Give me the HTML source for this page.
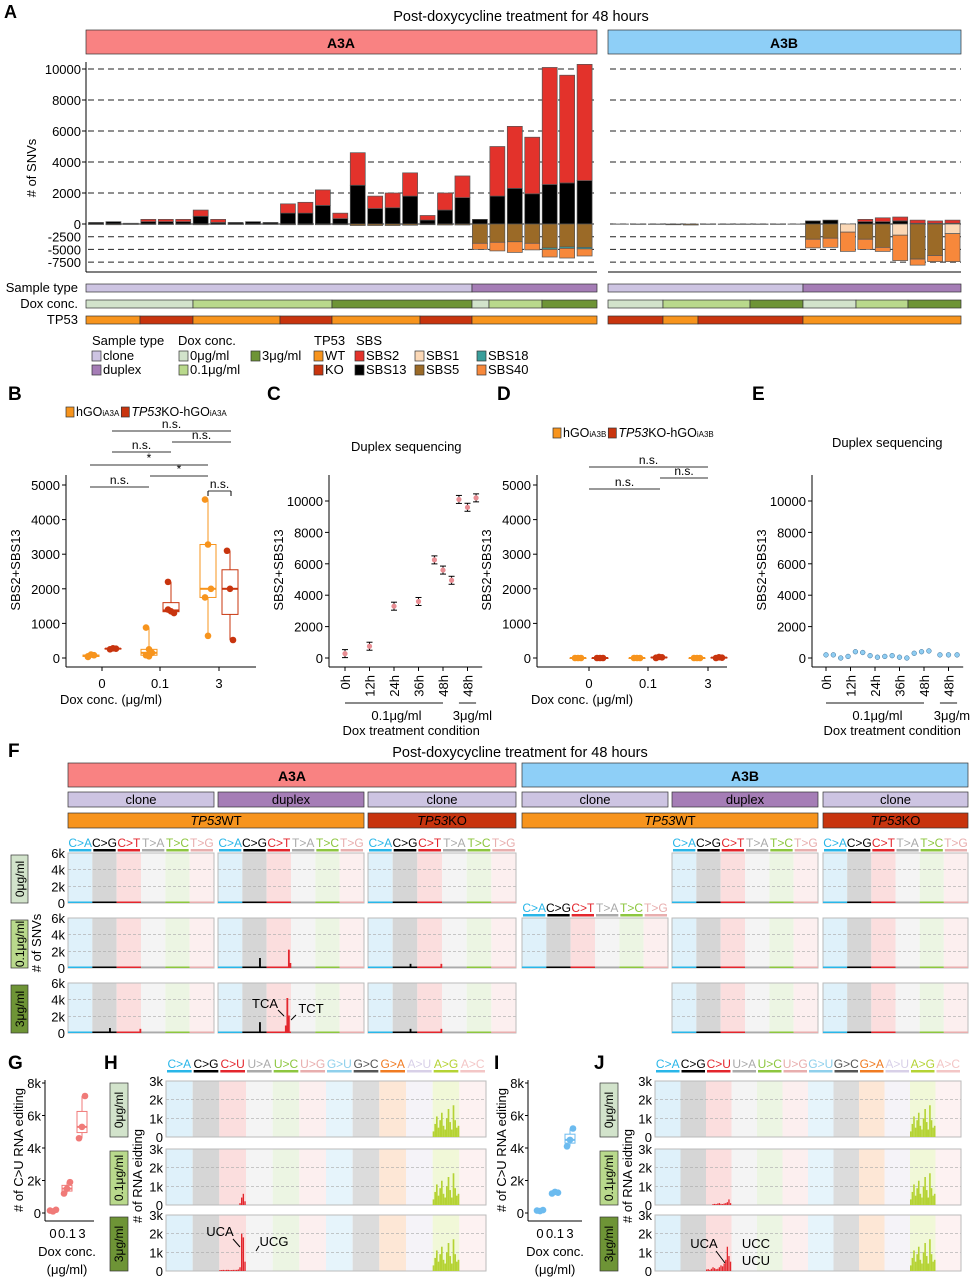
<!DOCTYPE html>
<html><head><meta charset="utf-8"><style>
html,body{margin:0;padding:0;background:#fff;}
svg{display:block;font-family:"Liberation Sans Narrow","Liberation Sans",sans-serif;}
</style></head><body>
<svg id="fig" width="971" height="1280" viewBox="0 0 971 1280" xmlns="http://www.w3.org/2000/svg"></svg>
<script>
// ---------- Panel A data ----------
const sbs2L=[0,0,0,150,150,150,400,200,0,0,0,600,700,1000,350,2100,800,950,1500,300,1100,1400,0,3200,4000,3650,7550,6950,7500];
const sbs13L=[100,150,50,150,150,150,500,100,100,150,100,700,700,1200,350,2500,1000,1050,1800,250,900,1700,300,1800,2300,1950,2550,2650,2800];
const sbs1L=[0,0,0,0,0,0,0,0,0,0,0,0,0,0,0,0,0,0,0,0,0,0,0,0,0,0,0,0,0];
const sbs5L=[100,150,100,100,100,100,150,100,100,100,100,150,150,150,150,300,300,300,250,150,200,200,3800,3600,3500,3800,4700,4500,4600];
const sbs18L=[0,0,0,0,0,0,0,0,0,0,0,0,0,0,0,0,0,0,0,0,0,0,0,0,0,0,300,300,300];
const sbs40L=[0,0,0,0,0,0,0,0,0,0,0,0,0,0,0,0,0,0,0,0,0,0,1200,1700,2100,1300,1500,1900,1400];
const sbs2R=[0,0,0,0,0,0,0,0,0,0,0,0,0,0,150,250,250,200,150,200];
const sbs13R=[0,0,0,0,0,0,0,0,0,0,0,200,250,0,150,150,200,50,50,50];
const sbs1R=[0,0,0,0,0,0,0,0,0,0,0,0,0,1600,0,0,2200,0,0,1900];
const sbs5R=[50,80,80,150,200,80,80,80,80,80,50,3000,2800,0,3000,4600,0,6900,6200,0];
const sbs18R=[0,0,0,0,0,0,0,0,0,0,0,0,0,0,0,0,0,0,0,0];
const sbs40R=[0,0,0,0,0,0,0,0,0,0,0,1700,1800,3800,2000,800,5000,1200,1200,5500];
const posTicks=[0,2000,4000,6000,8000,10000];
const negTicks=[-2500,-5000,-7500];
// ---------- Panel B / D data ----------
const bCats=['0','0.1','3'];
const bWT=[[50,100,80,30],[880,250,150,80,50],[4580,3280,2000,1750,640]];
const bKO=[[250,280,270],[2200,1350,1300,1400],[3100,2000,520]];
const dWT=[[0,0,0],[0,0,0],[0,0,0]];
const dKO=[[0,0,0],[0,30,20,10],[0,20,10]];
const bTicks=[0,1000,2000,3000,4000,5000];
// ---------- Panel C / E data ----------
const cLabels=['0h','12h','24h','36h','48h','48h'];
const cVals=[280,750,3300,3600,6250,5600,4950,10100,9600,10200];
const cSlot=[0,1,2,3,3.65,4,4.35,4.65,5,5.35];
const eVals=[200,200,0,100,400,350,150,50,100,150,50,0,300,400,450,200,200,200];
const eSlot=[0,0.3,0.6,0.9,1.2,1.5,1.8,2.1,2.4,2.7,3.0,3.3,3.6,3.9,4.2,4.65,5,5.35];
const cTicks=[0,2000,4000,6000,8000,10000];
// ---------- Panel F data ----------
const mutTypes=['C>A','C>G','C>T','T>A','T>C','T>G'];
const fSpikePanel=[7,7,7,8,8,12,12,13,13,13,13,14,14];
const fSpikeType=[1,2,2,1,2,1,2,1,2,2,2,1,2];
const fSpikeIdx=[11,14,15,11,15,11,15,11,12,13,14,11,15];
const fSpikeVal=[1200,2200,600,500,500,600,500,1300,900,4200,2100,500,500];
// ---------- Panel G / I data ----------
const gVals=[[150,100,200],[1200,1500,1900],[4600,5300,7200]];
const iVals=[[150,120,180],[1200,1300,1250],[4100,4500,5200]];
const gTicks=[0,2000,4000,6000,8000];
// ---------- Panel H / J data ----------
const rnaTypes=['C>A','C>G','C>U','U>A','U>C','U>G','G>U','G>C','G>A','A>U','A>G','A>C'];
const agProfile=[300,700,1100,500,900,1300,600,400,1000,1500,800,400,1700,900,500,600];
const hCUrow2=[0,0,0,0,0,0,0,0,0,0,0,0,100,400,600,200];
const hCUrow3=[50,50,60,50,60,60,50,50,60,60,60,80,200,2000,1800,500];
const jCUrow2=[0,0,0,0,50,60,50,80,100,60,50,80,100,150,300,100];
const jCUrow3=[80,100,60,120,200,150,100,120,200,300,250,400,600,1300,800,500];

const NS='http://www.w3.org/2000/svg';
const svg=document.getElementById('fig');
function mk(tag,attrs,name){
  const e=document.createElementNS(NS,tag);
  for(const k in attrs) e.setAttribute(k,attrs[k]);
  
  
  svg.appendChild(e);return e;
}
function txt(x,y,s,size,name,o){
  o=o||{};
  const a={x:x,y:y,'font-size':size,'text-anchor':o.anchor||'start',fill:o.fill||'#000'};
  if(o.weight)a['font-weight']=o.weight;
  if(o.rot!==undefined)a.transform='rotate('+o.rot+' '+x+' '+y+')';
  if(o.italic)a['font-style']='italic';
  const t=mk('text',a,name);t.textContent=s;return t;
}
function tsp(t,s,attrs){const a=document.createElementNS(NS,'tspan');for(const k in attrs)a.setAttribute(k,attrs[k]);a.textContent=s;t.appendChild(a);return a;}
function rect(x,y,w,h,fill,name,stroke){
  const a={x:x,y:y,width:Math.max(w,0),height:Math.max(h,0),fill:fill};
  if(stroke){a.stroke=stroke;a['stroke-width']=0.7;}
  return mk('rect',a,name);
}
function line(x1,y1,x2,y2,name,o){
  o=o||{};
  const a={x1:x1,y1:y1,x2:x2,y2:y2,stroke:o.stroke||'#000','stroke-width':o.w||1};
  if(o.dash)a['stroke-dasharray']=o.dash;
  return mk('line',a,name);
}
const C={red:'#e3322b',wt:'#f7941d',ko:'#c8340e',clone:'#cdc4e2',duplex:'#a57db6',d0:'#d2e3cb',d01:'#b9d98c',d3:'#6e9436',
 sbs1:'#fbd8b6',sbs5:'#9b6a27',sbs18:'#3a9e9b',sbs40:'#f7883b',a3a:'#f98282',a3b:'#8ecff7'};

// ================= PANEL A =================
txt(4,18,'A',18,'panel-label-a',{weight:'bold'});
txt(521,21,'Post-doxycycline treatment for 48 hours',14.5,'panel-a-title',{anchor:'middle'});
rect(86,30,511,24,C.a3a,'a3a-header','#333');txt(341,48,'A3A',14,'a3a-header-label',{anchor:'middle',weight:'bold'});
rect(608,30,353,24,C.a3b,'a3b-header','#333');txt(784,48,'A3B',14,'a3b-header-label',{anchor:'middle',weight:'bold'});
const yP=v=>224-v*0.0155, yN=v=>224+v*0.00508;
posTicks.forEach(t=>{line(88,yP(t),597,yP(t),'grid-line-left',{dash:'6,4',stroke:'#222'});line(610,yP(t),961,yP(t),'grid-line-right',{dash:'6,4',stroke:'#222'});
 txt(81,yP(t)+5,String(t),13,'y-tick-label',{anchor:'end'});line(82,yP(t),86,yP(t),'y-tick');});
negTicks.forEach(t=>{line(88,yN(-t),597,yN(-t),'grid-line-left',{dash:'6,4',stroke:'#222'});line(610,yN(-t),961,yN(-t),'grid-line-right',{dash:'6,4',stroke:'#222'});
 txt(81,yN(-t)+5,String(t),13,'y-tick-label',{anchor:'end'});});
line(86,62,86,272,'y-axis-line');line(86,272,597,272,'x-axis-line-left');line(608,272,961,272,'x-axis-line-right');
txt(36,168,'# of SNVs',13,'y-axis-title',{anchor:'middle',rot:-90});
function barsA(x0,sp,p2,p13,n1,n5,n18,n40,side){
  for(let i=0;i<p2.length;i++){
    const x=x0+i*sp-7.5,w=15;
    rect(x,yP(p13[i]),w,yP(0)-yP(p13[i]),'#000','bar-sbs13-'+side,'#555');
    rect(x,yP(p13[i]+p2[i]),w,yP(p13[i])-yP(p13[i]+p2[i]),C.red,'bar-sbs2-'+side,'#555');
    let c=0;
    [[n1,C.sbs1,'sbs1'],[n5,C.sbs5,'sbs5'],[n18,C.sbs18,'sbs18'],[n40,C.sbs40,'sbs40']].forEach(s=>{
      const v=s[0][i];if(v>0){rect(x,yN(c),w,yN(c+v)-yN(c),s[1],'bar-'+s[2]+'-'+side,'#555');c+=v;}
    });
  }
}
barsA(96,17.45,sbs2L,sbs13L,sbs1L,sbs5L,sbs18L,sbs40L,'a3a');
barsA(621,17.45,sbs2R,sbs13R,sbs1R,sbs5R,sbs18R,sbs40R,'a3b');
txt(78,292,'Sample type',13,'track-label-sample-type',{anchor:'end'});
txt(78,308,'Dox conc.',13,'track-label-dox',{anchor:'end'});
txt(78,324,'TP53',13,'track-label-tp53',{anchor:'end'});
function track(y,segs,name){segs.forEach(s=>rect(s[0],y,s[1]-s[0],8,s[2],name,'#333'));}
track(284,[[86,472,C.clone],[472,597,C.duplex]],'track-sample-type');
track(300,[[86,193,C.d0],[193,332,C.d01],[332,472,C.d3],[472,489,C.d0],[489,542,C.d01],[542,597,C.d3]],'track-dox');
track(316,[[86,140,C.wt],[140,193,C.ko],[193,280,C.wt],[280,332,C.ko],[332,420,C.wt],[420,472,C.ko],[472,597,C.wt]],'track-tp53');
track(284,[[608,803,C.clone],[803,961,C.duplex]],'track-sample-type-b');
track(300,[[608,663,C.d0],[663,750,C.d01],[750,803,C.d3],[803,856,C.d0],[856,908,C.d01],[908,961,C.d3]],'track-dox-b');
track(316,[[608,663,C.ko],[663,698,C.wt],[698,803,C.ko],[803,961,C.wt]],'track-tp53-b');
function leg(x,y,col,label){rect(x,y-9,9,10,col,'legend-swatch','#333');txt(x+11,y,label,13,'legend-entry');}
txt(92,345,'Sample type',13,'legend-title-sample');txt(178,345,'Dox conc.',13,'legend-title-dox');
txt(314,345,'TP53',13,'legend-title-tp53');txt(356,345,'SBS',13,'legend-title-sbs');
leg(92,360,C.clone,'clone');leg(92,374,C.duplex,'duplex');
leg(179,360,C.d0,'0μg/ml');leg(179,374,C.d01,'0.1μg/ml');leg(251,360,C.d3,'3μg/ml');
leg(314,360,C.wt,'WT');leg(314,374,C.ko,'KO');
leg(355,360,C.red,'SBS2');leg(355,374,'#000','SBS13');
leg(415,360,C.sbs1,'SBS1');leg(415,374,C.sbs5,'SBS5');
leg(477,360,C.sbs18,'SBS18');leg(477,374,C.sbs40,'SBS40');

// ================= PANEL B / D =================
function boxStats(a){const s=[...a].sort((p,q)=>p-q);const q=f=>{const i=(s.length-1)*f,l=Math.floor(i);return s[l]+(s[Math.min(l+1,s.length-1)]-s[l])*(i-l);};return [s[0],q(.25),q(.5),q(.75),s[s.length-1]];}
function drawBox(cx,vals,ys,col,name,hw){
  const st=boxStats(vals);hw=hw||8;
  line(cx,ys(st[0]),cx,ys(st[1]),name+'-whisker',{stroke:col});line(cx,ys(st[3]),cx,ys(st[4]),name+'-whisker',{stroke:col});
  mk('rect',{x:cx-hw,y:ys(st[3]),width:hw*2,height:Math.max(ys(st[1])-ys(st[3]),0.5),fill:'none',stroke:col,'stroke-width':1},name+'-box');
  line(cx-hw,ys(st[2]),cx+hw,ys(st[2]),name+'-median',{stroke:col,w:2});
  vals.forEach((v,i)=>mk('circle',{cx:cx+((i%3)-1)*3,cy:ys(v),r:3.3,fill:col},name+'-point'));
}
function boxPanel(ax,cx,wt,ko,lab,legx,legy,sub){
  const ys=v=>658-v*0.0346;
  txt(lab[1],400,lab[0],19,'panel-label-'+lab[0].toLowerCase(),{weight:'bold'});
  line(ax,475,ax,667,'y-axis-line');line(ax,667,ax+190,667,'x-axis-line');
  bTicks.forEach(t=>{line(ax-4,ys(t),ax,ys(t),'y-tick');txt(ax-6,ys(t)+5,String(t),13,'y-tick-label',{anchor:'end'});});
  bCats.forEach((c,i)=>{line(cx[i],667,cx[i],671,'x-tick');txt(cx[i],688,c,13,'x-tick-label',{anchor:'middle'});
    drawBox(cx[i]-11,wt[i],ys,C.wt,'box-wt');drawBox(cx[i]+11,ko[i],ys,C.ko,'box-ko');});
  txt(ax+45,704,'Dox conc. (μg/ml)',13,'x-axis-title',{anchor:'middle'});
  txt(ax-46,570,'SBS2+SBS13',13,'y-axis-title',{anchor:'middle',rot:-90});
  rect(legx,legy-9,8,10,C.wt,'legend-swatch-wt','#333');
  const t1=txt(legx+10,legy,'',12.5,'legend-entry-wt');tsp(t1,'hGO',{});tsp(t1,sub,{'font-size':8});
  const w2=legx+10+t1.getComputedTextLength()+2;
  rect(w2,legy-9,8,10,C.ko,'legend-swatch-ko','#333');
  const t=txt(w2+10,legy,'',12.5,'legend-entry-ko');
  tsp(t,'TP53',{'font-style':'italic'});tsp(t,'KO-hGO',{});tsp(t,sub,{'font-size':8});
}
boxPanel(66,[102,160,219],bWT,bKO,['B',8],66,416,'iA3A');
boxPanel(537,[589,648,708],dWT,dKO,['D',497],553,437,'iA3B');
function sig(x1,x2,y,lab){line(x1,y,x2,y,'significance-bar',{stroke:'#333'});txt((x1+x2)/2,y-3,lab,12,'significance-label',{anchor:'middle'});}
sig(112,231,431,'n.s.');sig(172,231,442,'n.s.');sig(112,171,452,'n.s.');sig(90,208,465,'*');sig(150,208,476,'*');sig(90,149,487,'n.s.');
sig(208,231,491,'n.s.');line(231,491,231,496,'significance-tick');line(208,491,208,496,'significance-tick');
sig(589,708,467,'n.s.');sig(660,708,478,'n.s.');sig(589,660,489,'n.s.');

// ================= PANEL C / E =================
function timePanel(ax,x0,vals,slots,col,lab,labx,tl){
  const ys=v=>658-v*0.0157, xs=s=>x0+s*24.5;
  txt(labx,400,lab,19,'panel-label-'+lab.toLowerCase(),{weight:'bold'});
  txt(xs(2.5),tl,'Duplex sequencing',13,'panel-title',{anchor:'middle'});
  line(ax,475,ax,667,'y-axis-line');line(ax,667,xs(5.6),667,'x-axis-line');
  cTicks.forEach(t=>{line(ax-4,ys(t),ax,ys(t),'y-tick');txt(ax-6,ys(t)+5,String(t),13,'y-tick-label',{anchor:'end'});});
  cLabels.forEach((l,i)=>{const x=xs(i===5?5:i);line(x,667,x,671,'x-tick');txt(x+5,675,l,13,'x-tick-label',{anchor:'end',rot:-90});});
  vals.forEach((v,i)=>{const x=xs(slots[i]);
    if(col==='r'){line(x,ys(v)-4,x,ys(v)+4,'error-bar');line(x-3,ys(v)-4,x+3,ys(v)-4,'error-cap');line(x-3,ys(v)+4,x+3,ys(v)+4,'error-cap');
      mk('circle',{cx:x,cy:ys(v),r:2.6,fill:'#e88d93'},'point');}
    else{mk('circle',{cx:x,cy:ys(v),r:2.4,fill:'#8fcdf2',stroke:'#3a6f99','stroke-width':0.5},'point');}
  });
  line(xs(0),703,xs(4),703,'condition-bracket',{w:1.3,stroke:'#444'});line(xs(4.65),703,xs(5.35),703,'condition-bracket',{w:1.3,stroke:'#444'});
  txt(xs(2.1),720,'0.1μg/ml',13,'condition-label',{anchor:'middle'});txt(xs(5.2),720,'3μg/ml',13,'condition-label',{anchor:'middle'});
  txt(xs(2.7),735,'Dox treatment condition',13,'x-axis-title',{anchor:'middle'});
  txt(ax-46,570,'SBS2+SBS13',13,'y-axis-title',{anchor:'middle',rot:-90});
}
timePanel(329,345,cVals,cSlot,'r','C',267,451);
timePanel(812,826,eVals,eSlot,'b','E',752,447);

// ================= PANEL F =================
txt(8,757,'F',19,'panel-label-f',{weight:'bold'});
txt(520,757,'Post-doxycycline treatment for 48 hours',14.5,'panel-f-title',{anchor:'middle'});
rect(68,763,448,24,C.a3a,'f-a3a-header','#333');txt(292,781,'A3A',14,'f-a3a-label',{anchor:'middle',weight:'bold'});
rect(522,763,446,24,C.a3b,'f-a3b-header','#333');txt(745,781,'A3B',14,'f-a3b-label',{anchor:'middle',weight:'bold'});
const fCols=[[68,214],[218,364],[368,516],[522,668],[672,818],[823,968]];
const fSub=['clone','duplex','clone','clone','duplex','clone'];
fCols.forEach((c,i)=>{rect(c[0],792,c[1]-c[0],15,fSub[i]==='clone'?C.clone:C.duplex,'f-sample-type-'+fSub[i],'#333');
  txt((c[0]+c[1])/2,804,fSub[i],13,'f-sample-type-label',{anchor:'middle'});});
[[68,364,C.wt,'WT'],[368,516,C.ko,'KO'],[522,818,C.wt,'WT'],[823,968,C.ko,'KO']].forEach(s=>{
  rect(s[0],813,s[1]-s[0],15,s[2],'f-tp53-status','#333');
  const t=txt((s[0]+s[1])/2,825,'',13,'f-tp53-label',{anchor:'middle'});
  tsp(t,'TP53',{'font-style':'italic'});tsp(t,s[3],{});});
const mutCol=['#29b6e8','#000','#e3262d','#aaaaaa','#8dc63f','#e8aeae'];
const mutBg=['#dff1fa','#d6d6d6','#fbdede','#f4f4f4','#ecf5e3','#fcefef'];
const fRows=[853,918,983],fRowH=50;
const fRowLab=['0μg/ml','0.1μg/ml','3μg/ml'],fRowCol=[C.d0,C.d01,C.d3];
function mutHeader(x0,x1,y,types,cols,name){
  const w=(x1-x0)/types.length;
  types.forEach((t,i)=>{txt(x0+w*i+w/2,y,t,12,name,{anchor:'middle',fill:cols[i]});
    rect(x0+w*i+1,y+2,w-2,2.5,cols[i],name+'-bar');});
}
for(let r=0;r<3;r++){
  for(let c=0;c<6;c++){
    if(c===3&&r!==1)continue;
    const x0=fCols[c][0],x1=fCols[c][1],y0=fRows[r],w=(x1-x0)/6,ys=v=>y0+fRowH-v*(fRowH/6000);
    const panel=r*6+c;
    mutBg.forEach((b,i)=>rect(x0+w*i,y0,w,fRowH,b,'f-context-bg'));
    [2000,4000].forEach(t=>line(x0,ys(t),x1,ys(t),'f-grid',{dash:'3,2',stroke:'#aaa',w:0.7}));
    mk('rect',{x:x0,y:y0,width:x1-x0,height:fRowH,fill:'none',stroke:'#bbb','stroke-width':1},'f-panel-border');
    mutCol.forEach((col,i)=>rect(x0+w*i,ys(0)-1.5,w,1.5,col,'f-baseline'));
    fSpikePanel.forEach((p,k)=>{if(p===panel){const xx=x0+w*fSpikeType[k]+fSpikeIdx[k]*(w/16);
      rect(xx,ys(fSpikeVal[k]),1.8,ys(0)-ys(fSpikeVal[k]),mutCol[fSpikeType[k]],'f-spike');}});
    if(r===0||(c===3&&r===1))mutHeader(x0,x1,y0-6,mutTypes,mutCol,'f-mutation-type');
  }
  const y0=fRows[r];
  [0,2000,4000,6000].forEach(t=>txt(65,y0+fRowH-t*(fRowH/6000)+5,t?(t/1000)+'k':'0',13,'f-y-tick-label',{anchor:'end'}));
  rect(11,y0+2,17,fRowH-2,fRowCol[r],'f-row-label-box','#333');
  txt(24,y0+fRowH/2+1,fRowLab[r],12,'f-row-label',{anchor:'middle',rot:-90});
}
txt(41,943,'# of SNVs',13,'f-y-axis-title',{anchor:'middle',rot:-90});
line(278,1010,284,1016,'tca-leader');txt(265,1008,'TCA',13,'tca-label',{anchor:'middle'});
line(291,1020,296,1015,'tct-leader');txt(311,1013,'TCT',13,'tct-label',{anchor:'middle'});

// ================= PANEL G / I =================
function cuPanel(ax,cx,vals,col,lab,labx){
  const ys=v=>1213-v*0.01625;
  txt(labx,1069,lab,19,'panel-label-'+lab.toLowerCase(),{weight:'bold'});
  line(ax,1080,ax,1221,'y-axis-line');line(ax,1221,cx[2]+12,1221,'x-axis-line');
  gTicks.forEach(t=>{line(ax-3,ys(t),ax,ys(t),'y-tick');txt(ax-4,ys(t)+5,t?(t/1000)+'k':'0',13,'y-tick-label',{anchor:'end'});});
  ['0','0.1','3'].forEach((c,i)=>{txt(cx[i],1238,c,13,'x-tick-label',{anchor:'middle'});drawBox(cx[i],vals[i],ys,col,'cu-box',5);});
  txt(cx[1],1256,'Dox conc.',13,'x-axis-title',{anchor:'middle'});txt(cx[1],1274,'(μg/ml)',13,'x-axis-title-unit',{anchor:'middle'});
  txt(ax-22,1150,'# of C>U RNA editing',13,'y-axis-title',{anchor:'middle',rot:-90});
}
cuPanel(45,[53,67,82],gVals,'#f07a78','G',8);
cuPanel(528,[540,555,570],iVals,'#6cbbef','I',494);

// ================= PANEL H / J =================
const rnaCol=['#29b6e8','#000','#e3262d','#aaaaaa','#8dc63f','#e8aeae','#8fd0ec','#555555','#f07b22','#d8d0e8','#b5d334','#f3c6c6'];
const rnaBg=['#dff1fa','#d6d6d6','#fbdede','#f4f4f4','#ecf5e3','#fcefef','#e6f4fb','#dcdcdc','#fde7d6','#f5f3f8','#f1f8d8','#fdf2f2'];
const hRows=[1081,1149,1215],hH=56;
function rnaPanel(x0,x1,boxX,lab,labx,cu2,cu3){
  txt(labx,1069,lab,19,'panel-label-'+lab.toLowerCase(),{weight:'bold'});
  mutHeader(x0,x1,1068,rnaTypes,rnaCol,'rna-mutation-type');
  const w=(x1-x0)/12;
  hRows.forEach((y0,r)=>{
    const ys=v=>y0+hH-v*(hH/3000);
    rnaBg.forEach((b,i)=>rect(x0+w*i,y0,w,hH,b,'rna-context-bg'));
    [1000,2000].forEach(t=>line(x0,ys(t),x1,ys(t),'rna-grid',{dash:'3,2',stroke:'#aaa',w:0.7}));
    mk('rect',{x:x0,y:y0,width:x1-x0,height:hH,fill:'none',stroke:'#bbb','stroke-width':1},'rna-panel-border');
    agProfile.forEach((v,k)=>rect(x0+w*10+k*(w/16),ys(v),w/16,ys(0)-ys(v),'#b5d334','rna-ag-bar'));
    const cu=r===1?cu2:(r===2?cu3:null);
    if(cu)cu.forEach((v,k)=>{if(v>0)rect(x0+w*2+k*(w/16),ys(v),w/16-0.3,ys(0)-ys(v),'#e3262d','rna-cu-bar');});
    [0,1000,2000,3000].forEach(t=>txt(x0-3,ys(t)+5,t?(t/1000)+'k':'0',13,'rna-y-tick-label',{anchor:'end'}));
    rect(boxX,y0+2,18,hH-2,fRowCol[r],'rna-row-label-box','#333');
    txt(boxX+13,y0+hH/2+1,fRowLab[r],12,'rna-row-label',{anchor:'middle',rot:-90});
  });
  txt(boxX+32,1176,'# of RNA eidting',13,'rna-y-axis-title',{anchor:'middle',rot:-90});
}
rnaPanel(166,486,110,'H',104,hCUrow2,hCUrow3);
rnaPanel(655,961,600,'J',594,jCUrow2,jCUrow3);
txt(220,1236,'UCA',13,'uca-label-h',{anchor:'middle'});line(233,1239,240,1247,'uca-leader-h');
txt(274,1246,'UCG',13,'ucg-label-h',{anchor:'middle'});line(256,1251,259,1246,'ucg-leader-h');
txt(704,1248,'UCA',13,'uca-label-j',{anchor:'middle'});line(716,1251,725,1263,'uca-leader-j');
txt(756,1248,'UCC',13,'ucc-label-j',{anchor:'middle'});txt(756,1265,'UCU',13,'ucu-label-j',{anchor:'middle'});
</script>
</body></html>
